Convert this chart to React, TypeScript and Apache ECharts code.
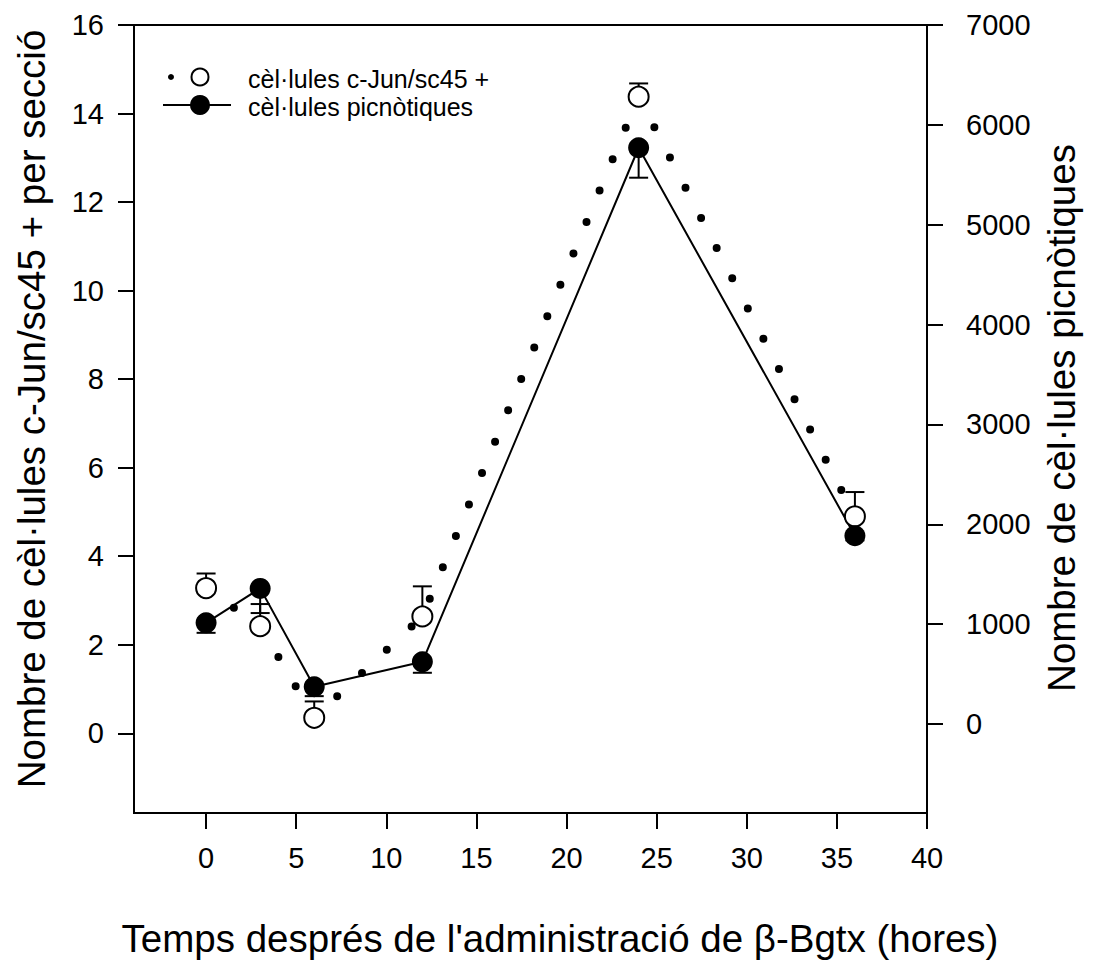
import React, { useEffect, useRef } from "react";
import * as echarts from "echarts";

const hours = [0, 3, 6, 12, 24, 36];
const cJun = [3.28, 2.42, 0.35, 2.64, 14.38, 4.9];
const cJunUpper = [3.61, 2.92, 0.72, 3.32, 14.68, 5.45];
const picno = [1014, 1359, 374, 624, 5771, 1886];
const picnoLower = [914, 1112, 280, 514, 5471, 1840];

const xTicks = [0, 5, 10, 15, 20, 25, 30, 35, 40];
const yLeftTicks = [0, 2, 4, 6, 8, 10, 12, 14, 16];
const yRightTicks = [0, 1000, 2000, 3000, 4000, 5000, 6000, 7000];

const legendLabels = ["cèl·lules c-Jun/sc45 +", "cèl·lules picnòtiques"];
const xTitle = "Temps després de l'administració de β-Bgtx (hores)";
const yLeftTitle = "Nombre de cèl·lules c-Jun/sc45 + per secció";
const yRightTitle = "Nombre de cèl·lules picnòtiques";

const FONT = "'Liberation Sans', Arial, Helvetica, sans-serif";

function errRender(params: any, api: any) {
  const x = api.value(0);
  const y = api.value(1);
  const e = api.value(2);
  const p0 = api.coord([x, y]);
  const p1 = api.coord([x, e]);
  const st = { stroke: "#000", lineWidth: 2 };
  return {
    type: "group",
    children: [
      { type: "line", shape: { x1: p0[0], y1: p0[1], x2: p1[0], y2: p1[1] }, style: st },
      { type: "line", shape: { x1: p1[0] - 9.5, y1: p1[1], x2: p1[0] + 9.5, y2: p1[1] }, style: st },
    ],
  };
}

export default function App() {
  const ref = useRef<HTMLDivElement>(null);
  useEffect(() => {
    if (!ref.current) return;
    const chart = echarts.init(ref.current, null, { renderer: "svg" });
    const axisLine = { show: true, onZero: false, lineStyle: { color: "#000", width: 2 } };
    const tickStyle = { color: "#000", width: 2 };
    const fmt = (v: number) => String(v);
    const cJunPts = hours.map((h, i) => [h, cJun[i]]);
    const picnoPts = hours.map((h, i) => [h, picno[i]]);
    chart.setOption({
      animation: false,
      backgroundColor: "#fff",
      textStyle: { fontFamily: FONT },
      grid: {
        left: 134,
        right: 167,
        top: 25,
        bottom: 153,
        show: true,
        borderColor: "#000",
        borderWidth: 2,
        backgroundColor: "transparent",
      },
      xAxis: {
        type: "value",
        min: -4,
        max: 40,
        axisLine,
        axisTick: { show: true, length: 16, customValues: xTicks, lineStyle: tickStyle },
        axisLabel: { customValues: xTicks, formatter: fmt, fontSize: 29, color: "#000", margin: 30, fontFamily: FONT },
        splitLine: { show: false },
      },
      yAxis: [
        {
          type: "value",
          min: -1.8,
          max: 16,
          position: "left",
          axisLine,
          axisTick: { show: true, length: 16, customValues: yLeftTicks, lineStyle: tickStyle },
          axisLabel: { customValues: yLeftTicks, formatter: fmt, fontSize: 29, color: "#000", margin: 30, fontFamily: FONT },
          splitLine: { show: false },
        },
        {
          type: "value",
          min: -890,
          max: 7000,
          position: "right",
          axisLine,
          axisTick: { show: true, length: 16, customValues: yRightTicks, lineStyle: tickStyle },
          axisLabel: { customValues: yRightTicks, formatter: fmt, fontSize: 29, color: "#000", margin: 39, fontFamily: FONT },
          splitLine: { show: false },
        },
      ],
      series: [
        {
          type: "line",
          data: picnoPts,
          yAxisIndex: 1,
          symbol: "none",
          lineStyle: { color: "#000", width: 2 },
          z: 2,
        },
        {
          type: "line",
          data: cJunPts,
          yAxisIndex: 0,
          symbol: "none",
          lineStyle: { color: "#000", width: 8, type: [0, 34], cap: "round" },
          z: 2,
        },
        {
          type: "custom",
          yAxisIndex: 0,
          data: hours.map((h, i) => [h, cJun[i], cJunUpper[i]]),
          renderItem: errRender,
          z: 3,
        },
        {
          type: "custom",
          yAxisIndex: 1,
          data: hours.map((h, i) => [h, picno[i], picnoLower[i]]),
          renderItem: errRender,
          z: 3,
        },
        {
          type: "scatter",
          yAxisIndex: 0,
          data: cJunPts,
          symbol: "circle",
          symbolSize: 20,
          itemStyle: { color: "#fff", borderColor: "#000", borderWidth: 2, opacity: 1 },
          z: 4,
        },
        {
          type: "scatter",
          yAxisIndex: 1,
          data: picnoPts,
          symbol: "circle",
          symbolSize: 21,
          itemStyle: { color: "#000", opacity: 1 },
          z: 5,
        },
      ],
      graphic: [
        { type: "circle", shape: { cx: 171, cy: 77, r: 3 }, style: { fill: "#000" }, z: 10 },
        { type: "circle", shape: { cx: 200, cy: 77, r: 8.5 }, style: { fill: "#fff", stroke: "#000", lineWidth: 2 }, z: 10 },
        {
          type: "text",
          x: 248,
          y: 79,
          style: { text: legendLabels[0], fontSize: 25, fill: "#000", textVerticalAlign: "middle", fontFamily: FONT },
          z: 10,
        },
        { type: "line", shape: { x1: 163, y1: 105, x2: 231, y2: 105 }, style: { stroke: "#000", lineWidth: 2 }, z: 10 },
        { type: "circle", shape: { cx: 200, cy: 105, r: 10 }, style: { fill: "#000" }, z: 10 },
        {
          type: "text",
          x: 248,
          y: 107,
          style: { text: legendLabels[1], fontSize: 25, fill: "#000", textVerticalAlign: "middle", fontFamily: FONT },
          z: 10,
        },
        {
          type: "text",
          x: 560,
          y: 938,
          style: { text: xTitle, fontSize: 38.5, fill: "#000", textAlign: "center", textVerticalAlign: "middle", fontFamily: FONT },
        },
        {
          type: "text",
          x: 31,
          y: 409,
          rotation: Math.PI / 2,
          style: { text: yLeftTitle, fontSize: 38.5, fill: "#000", textAlign: "center", textVerticalAlign: "middle", fontFamily: FONT },
        },
        {
          type: "text",
          x: 1061,
          y: 418,
          rotation: Math.PI / 2,
          style: { text: yRightTitle, fontSize: 38.5, fill: "#000", textAlign: "center", textVerticalAlign: "middle", fontFamily: FONT },
        },
      ],
    });
    return () => chart.dispose();
  }, []);
  return (
    <div
      ref={ref}
      style={{ position: "absolute", left: 0, top: 0, width: 1094, height: 966, background: "#fff" }}
    />
  );
}
